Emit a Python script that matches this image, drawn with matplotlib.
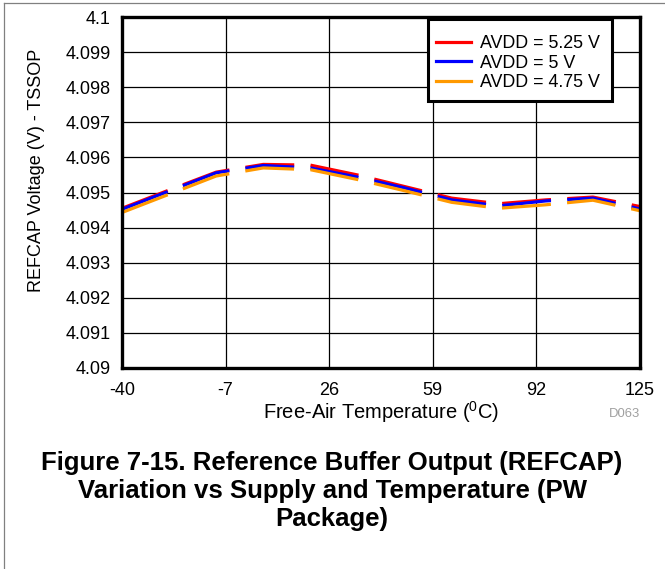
import numpy as np
import matplotlib
matplotlib.use("Agg")
import matplotlib.pyplot as plt
from matplotlib.lines import Line2D
from matplotlib.patches import Rectangle

plt.rcParams['font.family'] = ['Liberation Sans', 'DejaVu Sans']
plt.rcParams['lines.scale_dashes'] = False

# Data
temps = [-40, -25, -10, 5, 20, 35, 50, 65, 80, 95, 110, 125]
v_525 = [4.09455, 4.09507, 4.09558, 4.09580, 4.09578, 4.09550,
         4.09517, 4.09484, 4.09468, 4.09479, 4.09487, 4.09460]
v_500 = [4.09452, 4.09504, 4.09556, 4.09577, 4.09570, 4.09544,
         4.09513, 4.09479, 4.09462, 4.09476, 4.09484, 4.09453]
v_475 = [4.09443, 4.09495, 4.09547, 4.09570, 4.09565, 4.09537,
         4.09505, 4.09472, 4.09455, 4.09465, 4.09478, 4.09448]

series_labels = ['AVDD = 5.25 V', 'AVDD = 5 V', 'AVDD = 4.75 V']
series_colors = ['#ff0000', '#0000ff', '#ff9900']

x_ticks = [-40, -7, 26, 59, 92, 125]
y_ticks = [4.09, 4.091, 4.092, 4.093, 4.094, 4.095, 4.096, 4.097, 4.098, 4.099, 4.1]
y_ticklabels = ['4.09', '4.091', '4.092', '4.093', '4.094', '4.095',
                '4.096', '4.097', '4.098', '4.099', '4.1']

W, H = 665, 569
fig = plt.figure(figsize=(W / 100, H / 100), dpi=100)
ax = fig.add_axes([122 / W, 1 - 368 / H, 518 / W, 351 / H])

dash = (0, (35.3, 11.7))
for vals, lab, col in zip([v_525, v_500, v_475], series_labels, series_colors):
    ax.plot(temps, vals, color=col, lw=2.3, linestyle=dash, label=lab,
            dash_capstyle='butt')

ax.set_xlim(-40, 125)
ax.set_ylim(4.09, 4.1)
ax.set_xticks(x_ticks)
ax.set_xticklabels([str(t) for t in x_ticks])
ax.set_yticks(y_ticks)
ax.set_yticklabels(y_ticklabels)
ax.tick_params(length=0, labelsize=13)
ax.tick_params(axis='y', pad=8)
ax.tick_params(axis='x', pad=10)
ax.grid(True, color='black', lw=0.9)
ax.set_axisbelow(True)
for sp in ax.spines.values():
    sp.set_linewidth(2.4)
    sp.set_color('black')

ax.set_xlabel(r'Free-Air Temperature ($\mathregular{^0}$C)', fontsize=14.5, labelpad=0)
ax.set_ylabel('REFCAP Voltage (V) - TSSOP', fontsize=13)
ax.yaxis.set_label_coords((45 - 122) / 518, (368 - 170) / 351)

# legend: box drawn separately so its size can follow the reference
fig.add_artist(Rectangle((428 / W, 1 - 101 / H), 184 / W, 82 / H,
                         transform=fig.transFigure, facecolor='white',
                         edgecolor='black', lw=2.2, zorder=5))
leg_lines = [Line2D([0], [0], color=c, lw=2.3) for c in series_colors]
leg = fig.legend(leg_lines, series_labels, loc='upper left',
                 bbox_to_anchor=(436 / W, 1 - 35 / H),
                 borderaxespad=0, borderpad=0, fontsize=12.9,
                 handlelength=1.95, handletextpad=0.5, labelspacing=0.15,
                 frameon=False)
leg.set_zorder(6)

fig.text(640 / W, 1 - 414 / H, 'D063', color='#a0a0a0', fontsize=9.4,
         ha='right', va='center')

title = ('Figure 7-15. Reference Buffer Output (REFCAP)\n'
         'Variation vs Supply and Temperature (PW\n'
         'Package)')
fig.text(332 / W, 1 - 491 / H, title, fontsize=18.5, fontweight='bold',
         ha='center', va='center', linespacing=1.22)

# thin frame on the left and top of the page
fig.add_artist(Line2D([3.5 / W, 3.5 / W], [0, 1 - 2.5 / H],
                      color='#808080', lw=0.9, transform=fig.transFigure))
fig.add_artist(Line2D([3.5 / W, 1], [1 - 2.5 / H, 1 - 2.5 / H],
                      color='#808080', lw=0.9, transform=fig.transFigure))

fig.savefig('out.png', dpi=100)
